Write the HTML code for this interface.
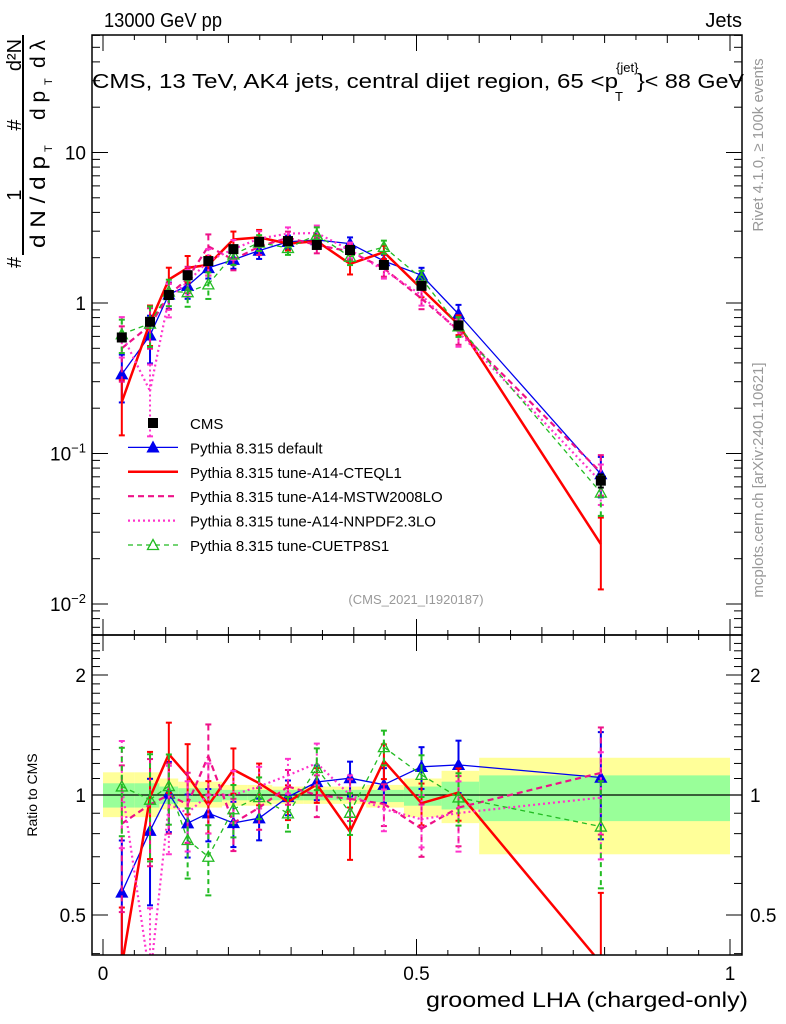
<!DOCTYPE html>
<html><head><meta charset="utf-8"><style>
html,body{margin:0;background:#fff;overflow:hidden;width:786px;height:1024px;}
svg{display:block;font-family:"Liberation Sans",sans-serif;}
</style></head><body>
<svg id="c" width="786" height="1024" xmlns="http://www.w3.org/2000/svg"></svg>
<script>
const xCenters=[0.030,0.075,0.105,0.135,0.168,0.208,0.249,0.295,0.341,0.394,0.448,0.508,0.567,0.794];
const binEdges=[0,0.05,0.09,0.12,0.15,0.19,0.23,0.27,0.32,0.37,0.42,0.48,0.54,0.6,1.0];
const cmsVals=[0.59,0.75,1.13,1.53,1.9,2.28,2.55,2.58,2.43,2.25,1.79,1.30,0.71,0.066];
const defVals=[0.336,0.61,1.14,1.30,1.71,1.94,2.23,2.55,2.62,2.48,1.90,1.53,0.845,0.073];
const a14Vals=[0.22,0.74,1.43,1.71,1.79,2.64,2.73,2.48,2.58,1.82,2.18,1.24,0.72,0.025];
const mstwVals=[0.50,0.71,1.13,1.45,2.38,1.94,2.37,2.71,2.43,2.2,1.70,1.07,0.66,0.075];
const nnpdfVals=[0.62,0.26,1.07,1.38,1.9,2.28,2.68,2.89,2.92,2.25,1.65,1.13,0.64,0.065];
const cuetVals=[0.62,0.73,1.19,1.18,1.33,2.10,2.52,2.32,2.84,2.03,2.36,1.46,0.70,0.055];
const cmsErr=[0.05,0.05,0.04,0.04,0.04,0.03,0.03,0.03,0.03,0.03,0.03,0.04,0.05,0.1];
const defErr=[0.35,0.35,0.2,0.18,0.15,0.13,0.12,0.1,0.1,0.1,0.1,0.12,0.15,0.3];
const a14Err=[0.4,0.3,0.2,0.2,0.15,0.13,0.12,0.1,0.1,0.15,0.1,0.12,0.15,0.5];
const mstwErr=[0.4,0.3,0.2,0.2,0.2,0.15,0.12,0.1,0.12,0.12,0.12,0.15,0.2,0.3];
const nnpdfErr=[0.3,0.5,0.25,0.2,0.2,0.15,0.12,0.1,0.12,0.12,0.12,0.15,0.2,0.3];
const cuetErr=[0.25,0.3,0.2,0.2,0.2,0.15,0.12,0.1,0.12,0.12,0.1,0.12,0.15,0.3];
const yelHi=[1.14,1.14,1.10,1.08,1.08,1.06,1.06,1.05,1.05,1.05,1.06,1.10,1.15,1.24];
const yelLo=[0.88,0.88,0.92,0.93,0.93,0.94,0.94,0.95,0.95,0.95,0.93,0.88,0.85,0.71];
const grnHi=[1.07,1.07,1.05,1.04,1.04,1.03,1.03,1.03,1.03,1.03,1.03,1.05,1.08,1.12];
const grnLo=[0.93,0.93,0.95,0.96,0.96,0.97,0.97,0.97,0.97,0.97,0.96,0.94,0.92,0.86];

const NS="http://www.w3.org/2000/svg";
const svg=document.getElementById('c');
function el(t,a,p){const e=document.createElementNS(NS,t);for(const k in a)e.setAttribute(k,a[k]);(p||svg).appendChild(e);return e;}
const X=v=>103+v*627;
const Ym=v=>303-Math.log10(v)*150.5;
const Yr=v=>795-Math.log2(v)*120;
const L=92,R=742,T=35,M=635,B=955;
const clampY=(y,lo,hi)=>Math.min(hi,Math.max(lo,y));

const defs=el('defs',{});
const c1=el('clipPath',{id:'cm'},defs);el('rect',{x:L,y:T,width:R-L,height:M-T},c1);
const c2=el('clipPath',{id:'cr'},defs);el('rect',{x:L,y:M,width:R-L,height:B-M},c2);

const gb=el('g',{'clip-path':'url(#cr)'});


for(let i=0;i<yelHi.length;i++){
  const r=el('rect',{x:X(binEdges[i]),y:Yr(yelHi[i]),width:X(binEdges[i+1])-X(binEdges[i]),height:Yr(yelLo[i])-Yr(yelHi[i]),fill:'#ffff99'},gb);
  
  
  const g=el('rect',{x:X(binEdges[i]),y:Yr(grnHi[i]),width:X(binEdges[i+1])-X(binEdges[i]),height:Yr(grnLo[i])-Yr(grnHi[i]),fill:'#99ff99'},gb);
  
  
}
el('line',{x1:L,x2:R,y1:Yr(1),y2:Yr(1),stroke:'#000','stroke-width':1.2});

const series=[
 {n:'cms',v:cmsVals,e:cmsErr,c:'#000',w:1,d:'',m:'sq'},
 {n:'pythia-default',v:defVals,e:defErr,c:'#0000ee',w:1.3,d:'',m:'tri'},
 {n:'pythia-a14-cteql1',v:a14Vals,e:a14Err,c:'#ff0000',w:2.5,d:'',m:''},
 {n:'pythia-a14-mstw2008lo',v:mstwVals,e:mstwErr,c:'#ee1188',w:2.2,d:'6,4',m:''},
 {n:'pythia-a14-nnpdf23lo',v:nnpdfVals,e:nnpdfErr,c:'#ff33cc',w:2.2,d:'2,3',m:''},
 {n:'pythia-cuetp8s1',v:cuetVals,e:cuetErr,c:'#22bb22',w:1.3,d:'5,4',m:'otri'}
];
function tri(g,x,y,c,fill){return el('path',{d:`M${x-5.5},${y+4.5}L${x+5.5},${y+4.5}L${x},${y-5.5}Z`,fill:fill?c:'none',stroke:c,'stroke-width':1.3},g);}
function draw(panel,Y,clip,top,bot){
  const order=panel==='main'?[1,2,3,4,5,0]:[1,2,3,4,5];
  for(const k of order){
    const s=series[k];
    const g=el('g',{'clip-path':'url(#'+clip+')'});
    
    
    const vals=s.v.map((v,i)=>panel==='main'?v:v/cmsVals[i]);
    if(s.n!=='cms'){
      let p='';
      for(let i=1;i<vals.length;i++){
        let xa=X(xCenters[i-1]),ya=Y(vals[i-1]),xb=X(xCenters[i]),yb=Y(vals[i]);
        if(yb>bot&&ya<=bot){xb=xa+(xb-xa)*(bot-ya)/(yb-ya);yb=bot;}
        else if(ya>bot&&yb<=bot){xa=xb+(xa-xb)*(bot-yb)/(ya-yb);ya=bot;}
        else if(ya>bot&&yb>bot)continue;
        p+='M'+xa.toFixed(1)+','+ya.toFixed(1)+'L'+xb.toFixed(1)+','+yb.toFixed(1);
      }
      el('path',{d:p,fill:'none',stroke:s.c,'stroke-width':s.w,'stroke-dasharray':s.d,'stroke-linejoin':'round'},g);
    }
    vals.forEach((v,i)=>{
      const x=X(xCenters[i]),e=s.e[i];
      const y1=clampY(Y(v*(1+e)),top,bot),y2=clampY(Y(Math.max(v*(1-e),1e-4)),top,bot);
      el('line',{x1:x,x2:x,y1:y1,y2:y2,stroke:s.c,'stroke-width':s.n==='cms'?1.2:2,'stroke-dasharray':s.d},g);
      if(y1>top&&y1<bot)el('line',{x1:x-3,x2:x+3,y1:y1,y2:y1,stroke:s.c,'stroke-width':2},g);
      if(y2>top&&y2<bot)el('line',{x1:x-3,x2:x+3,y1:y2,y2:y2,stroke:s.c,'stroke-width':2},g);
      const y=Y(v);
      if(y<top||y>bot)return;
      if(s.m==='sq'){const r=el('rect',{x:x-5,y:y-5,width:10,height:10,fill:'#000'},g);}
      if(s.m==='tri')tri(g,x,y,s.c,true);
      if(s.m==='otri')tri(g,x,y,s.c,false);
    });
  }
}
draw('main',Ym,'cm',T,M);
draw('ratio',Yr,'cr',M,B);

el('rect',{x:L,y:T,width:R-L,height:M-T,fill:'none',stroke:'#000','stroke-width':1.5});
el('rect',{x:L,y:M,width:R-L,height:B-M,fill:'none',stroke:'#000','stroke-width':1.5});

for(let v=0;v<=1.0001;v+=0.05){
  const x=X(v),maj=Math.abs(v*10-Math.round(v*10))<1e-6;
  const len=Math.abs(v*2-Math.round(v*2))<1e-6?16:(maj?8:5);
  for(const yy of [T,M,B]){
    el('line',{x1:x,x2:x,y1:yy,y2:yy+(yy===T?len:-len),stroke:'#000','stroke-width':1});
    if(yy===M) el('line',{x1:x,x2:x,y1:M,y2:M+len,stroke:'#000','stroke-width':1});
  }
}
[['0',0],['0.5',0.5],['1',1]].forEach(([t,v])=>{const e=el('text',{x:X(v),y:980,'font-size':19,'text-anchor':'middle'});e.textContent=t;});
for(let d=-3;d<=1;d++){for(let k=1;k<10;k++){const v=k*Math.pow(10,d);const y=Ym(v);if(y<T||y>M)continue;const len=k===1?16:8;
 el('line',{x1:L,x2:L+len,y1:y,y2:y,stroke:'#000'});el('line',{x1:R,x2:R-len,y1:y,y2:y,stroke:'#000'});}}
function ylab(txt,sup,y){const t=el('text',{x:86,y:y+7,'font-size':19,'text-anchor':'end'});
 if(sup){t.textContent=txt;const s=el('tspan',{'font-size':13,dy:-8},t);s.textContent=sup;}else t.textContent=txt;}
ylab('10','',Ym(10));ylab('1','',Ym(1));ylab('10','−1',Ym(0.1));ylab('10','−2',Ym(0.01));
for(let v=0.4;v<=2.5;v+=0.1){const y=Yr(v);if(y<M||y>B)continue;const maj=[0.5,1,2].some(q=>Math.abs(q-v)<1e-6);const len=maj?16:8;
 el('line',{x1:L,x2:L+len,y1:y,y2:y,stroke:'#000'});el('line',{x1:R,x2:R-len,y1:y,y2:y,stroke:'#000'});}
[['2',2],['1',1],['0.5',0.5]].forEach(([t,v])=>{for(const [x,a] of [[86,'end'],[750,'start']]){const e=el('text',{x:x,y:Yr(v)+7,'font-size':19,'text-anchor':a});e.textContent=t;}});

const leg=[['CMS',0],['Pythia 8.315 default',1],['Pythia 8.315 tune-A14-CTEQL1',2],['Pythia 8.315 tune-A14-MSTW2008LO',3],['Pythia 8.315 tune-A14-NNPDF2.3LO',4],['Pythia 8.315 tune-CUETP8S1',5]];
leg.forEach(([t,k],i)=>{const y=423+i*24.4;const s=series[k];
 const g=el('g',{});
 if(k===0)el('rect',{x:148,y:y-5,width:10,height:10,fill:'#000'},g);
 else{el('line',{x1:128,x2:178,y1:y,y2:y,stroke:s.c,'stroke-width':s.w,'stroke-dasharray':s.d},g);
  if(s.m==='tri')tri(g,153,y,s.c,true);if(s.m==='otri')tri(g,153,y,s.c,false);}
 const e=el('text',{x:190,y:y+6,'font-size':15},g);e.textContent=t;});

function txt(t,a,name){const e=el('text',a);e.textContent=t;return e;}
txt('13000 GeV pp',{x:104,y:27,'font-size':20,textLength:118,lengthAdjust:'spacingAndGlyphs'},'title-left');
txt('Jets',{x:742,y:27,'font-size':20,'text-anchor':'end'},'title-right');
txt('CMS, 13 TeV, AK4 jets, central dijet region, 65 <p',{x:92,y:88,'font-size':20,textLength:526,lengthAdjust:'spacingAndGlyphs'},'plot-title');
txt('{jet}',{x:616,y:72,'font-size':13},'title-sup');
txt('T',{x:615,y:101,'font-size':13},'title-sub');
txt('}< 88 GeV',{x:637,y:88,'font-size':20,textLength:107,lengthAdjust:'spacingAndGlyphs'},'title-end');
txt('(CMS_2021_I1920187)',{x:416,y:604,'font-size':13,fill:'#999','text-anchor':'middle'},'analysis-id');
txt('Ratio to CMS',{x:0,y:0,'font-size':14,transform:'translate(37,795) rotate(-90)','text-anchor':'middle'},'ratio-y-title');
txt('groomed LHA (charged-only)',{x:748,y:1007,'font-size':21,'text-anchor':'end',textLength:322,lengthAdjust:'spacingAndGlyphs'},'x-axis-title');
txt('Rivet 4.1.0, ≥ 100k events',{x:0,y:0,'font-size':15,fill:'#999',transform:'translate(763,145) rotate(-90)','text-anchor':'middle'},'rivet-version');
txt('mcplots.cern.ch [arXiv:2401.10621]',{x:0,y:0,'font-size':15,fill:'#999',transform:'translate(763,480) rotate(-90)','text-anchor':'middle'},'mcplots-credit');
el('line',{x1:23,x2:23,y1:35,y2:255,stroke:'#000','stroke-width':2});
txt('#',{x:0,y:0,'font-size':20,transform:'translate(21,268) rotate(-90)'},'y-title-hash');
txt('1',{x:0,y:0,'font-size':20,transform:'translate(21,195) rotate(-90)','text-anchor':'middle'},'y-title-num');
txt('#',{x:0,y:0,'font-size':20,transform:'translate(21,125) rotate(-90)','text-anchor':'middle'},'y-title-hash2');
txt('d²N',{x:0,y:0,'font-size':20,transform:'translate(21,55) rotate(-90)','text-anchor':'middle'},'y-title-d2n');
txt('d N / d p',{x:0,y:0,'font-size':21,transform:'translate(45,248) rotate(-90)',textLength:92,lengthAdjust:'spacingAndGlyphs'},'y-title-den');
txt('T',{x:0,y:0,'font-size':11,transform:'translate(52,152) rotate(-90)'},'y-title-sub');
txt('d p',{x:0,y:0,'font-size':21,transform:'translate(45,120) rotate(-90)'},'y-title-dp');
txt('T',{x:0,y:0,'font-size':11,transform:'translate(52,85) rotate(-90)'},'y-title-sub2');
txt('d λ',{x:0,y:0,'font-size':21,transform:'translate(45,68) rotate(-90)'},'y-title-dl');
</script>
</body></html>
